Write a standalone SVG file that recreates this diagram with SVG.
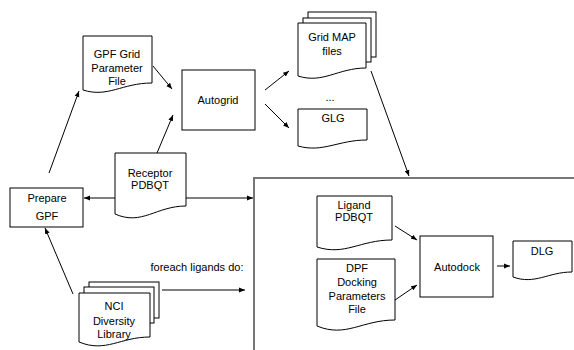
<svg xmlns="http://www.w3.org/2000/svg" width="574" height="350" viewBox="0 0 574 350">
<defs>
<style>
.s{fill:#fff;stroke:#000;stroke-width:1}
.t{font-family:"Liberation Sans",Arial,sans-serif;font-size:11px;fill:#000;text-anchor:middle}
.c{stroke:#000;stroke-width:1;fill:none;marker-end:url(#ah)}
</style>
<marker id="ah" viewBox="0 0 10 10" refX="10" refY="5" markerWidth="6" markerHeight="6" markerUnits="userSpaceOnUse" orient="auto">
<path d="M0,1 L10,5 L0,9 z" fill="#000"/>
</marker>
</defs>
<rect width="574" height="350" fill="#fff"/>

<g id="dock-region">
<path d="M254,350 V178 H574" fill="none" stroke="#777" stroke-width="2"/>
</g>

<g id="gpf-file">
<path class="s" d="M83,36 H152 V83 C122,83 108,98 83,90 Z"/>
<text class="t" x="117" y="58">GPF Grid</text>
<text class="t" x="117" y="72">Parameter</text>
<text class="t" x="117" y="85">File</text>
</g>

<g id="autogrid">
<rect class="s" x="182" y="70" width="73" height="60"/>
<text class="t" x="218" y="104">Autogrid</text>
</g>

<g id="grid-map-files">
<rect class="s" x="308" y="12" width="68" height="45"/>
<rect class="s" x="303" y="18" width="68" height="44"/>
<path class="s" d="M298,23 H366 V68 C338,68 323,84 298,76 Z"/>
<text class="t" x="332" y="41">Grid MAP</text>
<text class="t" x="332" y="55">files</text>
</g>

<g id="ellipsis">
<text class="t" x="330" y="101">...</text>
</g>

<g id="glg">
<path class="s" d="M298,109 H367 V140 C338,140 323,153 298,146 Z"/>
<text class="t" x="333" y="122">GLG</text>
</g>

<g id="prepare-gpf">
<rect class="s" x="10" y="188" width="73" height="39"/>
<text class="t" x="47" y="202">Prepare</text>
<text class="t" x="47" y="220">GPF</text>
</g>

<g id="receptor-pdbqt">
<path class="s" d="M115,153 H186 V206 C156,206 142,226 115,214 Z"/>
<text class="t" x="150" y="177">Receptor</text>
<text class="t" x="150" y="189">PDBQT</text>
</g>

<g id="nci-library">
<rect class="s" x="89" y="282" width="70" height="36"/>
<rect class="s" x="84" y="287" width="70" height="36"/>
<path class="s" d="M79,293 H150 V337 C120,337 106,353 79,342 Z"/>
<text class="t" x="114" y="310">NCI</text>
<text class="t" x="114" y="325">Diversity</text>
<text class="t" x="114" y="338">Library</text>
</g>

<g id="foreach-label">
<text class="t" x="197" y="271">foreach ligands do:</text>
</g>

<g id="ligand-pdbqt">
<path class="s" d="M317,196 H392 V240 C360,240 345,256 317,247 Z"/>
<text class="t" x="354" y="209">Ligand</text>
<text class="t" x="354" y="221">PDBQT</text>
</g>

<g id="dpf-file">
<path class="s" d="M317,259 H395 V320 C362,320 346,338 317,326 Z"/>
<text class="t" x="357" y="272">DPF</text>
<text class="t" x="357" y="286">Docking</text>
<text class="t" x="357" y="300">Parameters</text>
<text class="t" x="357" y="313">File</text>
</g>

<g id="autodock">
<rect class="s" x="420" y="236" width="73" height="61"/>
<text class="t" x="457" y="271">Autodock</text>
</g>

<g id="dlg">
<path class="s" d="M513,241 H572 V272 C548,272 535,285 513,277 Z"/>
<text class="t" x="542" y="255">DLG</text>
</g>

<g id="connectors">
<line class="c" x1="153" y1="66" x2="172" y2="89"/>
<line class="c" x1="157" y1="153" x2="173" y2="115"/>
<line class="c" x1="49" y1="173" x2="79" y2="91"/>
<line class="c" x1="265" y1="90" x2="289" y2="71"/>
<line class="c" x1="265" y1="104" x2="289" y2="128"/>
<line class="c" x1="371" y1="71" x2="409" y2="176"/>
<line class="c" x1="115" y1="198" x2="84" y2="198"/>
<line class="c" x1="186" y1="198" x2="253" y2="198"/>
<line class="c" x1="73" y1="294" x2="45" y2="228"/>
<line class="c" x1="162" y1="290" x2="245" y2="290"/>
<line class="c" x1="395" y1="226" x2="417" y2="240"/>
<line class="c" x1="395" y1="300" x2="417" y2="285"/>
<line class="c" x1="497" y1="266" x2="510" y2="266"/>
</g>
</svg>
